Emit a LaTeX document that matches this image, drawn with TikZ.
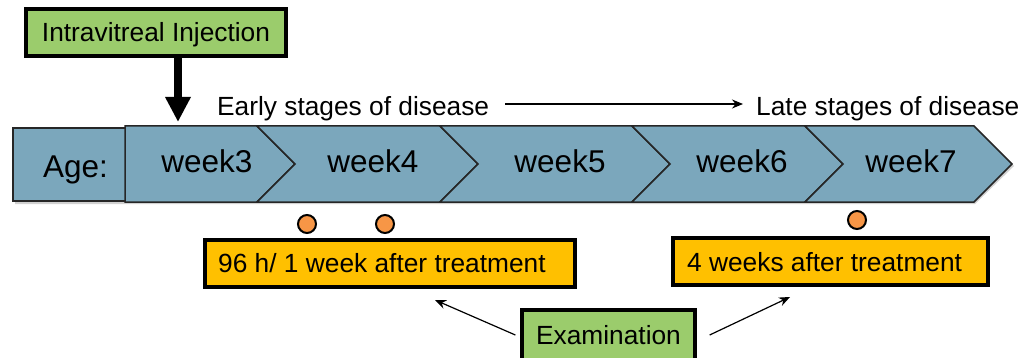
\documentclass[tikz,border=0pt]{standalone}
\usepackage{fontspec}
\setmainfont{Liberation Sans}
\usetikzlibrary{arrows.meta}
\definecolor{chevblue}{HTML}{7BA7BC}
\definecolor{boxgreen}{HTML}{9BCC6C}
\definecolor{boxyellow}{HTML}{FFC000}
\definecolor{dotorange}{HTML}{F79646}
\tikzset{
  smalltxt/.style={inner sep=0pt, font=\fontsize{26.3}{30}\selectfont},
  bigtxt/.style={inner sep=0pt, font=\fontsize{31.5}{36}\selectfont},
  chev/.style={fill=chevblue, draw=black!85, line width=1.5pt, line join=miter},
  greenbox/.style={draw=black, fill=boxgreen, line width=3.3pt, rectangle, inner sep=0pt,
    font=\fontsize{26.3}{30}\selectfont, text height=19pt, text depth=0pt},
  yellowbox/.style={draw=black, fill=boxyellow, line width=3.3pt, rectangle, inner sep=0pt},
  dot/.style={circle, draw=black, fill=dotorange, line width=2pt, minimum size=18pt, inner sep=0pt},
  thinarrow/.style={draw=black, line width=1.2pt, -{Stealth[length=11pt,width=9pt]}},
  fatarrow/.style={draw=black, line width=8pt, -{Triangle[length=25pt,width=24pt]}}
}
\begin{document}
\begin{tikzpicture}[x=1pt,y=-1pt]
\useasboundingbox (0,0) rectangle (1027,358);
% shadow
\fill[black,opacity=0.18] (15,130) -- (127,130) -- (127,128) -- (975,128) -- (1014,166) -- (975,204) -- (15,204) -- cycle;
% Age box
\path[chev] (13,128) rectangle (127,201);
% chevrons
\path[chev] (125,126) -- (257,126) -- (295,164) -- (257,202) -- (125,202) -- cycle;
\path[chev] (257,126) -- (440,126) -- (478,164) -- (440,202) -- (257,202) -- (295,164) -- cycle;
\path[chev] (440,126) -- (632,126) -- (670,164) -- (632,202) -- (440,202) -- (478,164) -- cycle;
\path[chev] (632,126) -- (805,126) -- (843,164) -- (805,202) -- (632,202) -- (670,164) -- cycle;
\path[chev] (805,126) -- (974,126) -- (1012,164) -- (974,202) -- (805,202) -- (843,164) -- cycle;
% labels
\node[bigtxt, anchor=base] (age) at (75.5,178) {Age:};
\node[bigtxt, anchor=base] (w3) at (207,173) {week3};
\node[bigtxt, anchor=base] (w4) at (373,173) {week4};
\node[bigtxt, anchor=base] (w5) at (560,173) {week5};
\node[bigtxt, anchor=base] (w6) at (742,173) {week6};
\node[bigtxt, anchor=base] (w7) at (911,173) {week7};
% stage texts
\node[smalltxt, anchor=base west] (early) at (217,116) {Early stages of disease};
\node[smalltxt, anchor=base west] (late) at (756,116) {Late stages of disease};
\coordinate (a1) at (505,104);
\coordinate (a2) at (743,104);
\draw[thinarrow] (a1) -- (a2);
% injection
\node[greenbox, minimum width=260pt, minimum height=47pt] (inj) at (156,32.5) {Intravitreal Injection};
\coordinate (i1) at (178,58);
\coordinate (i2) at (178,122);
\draw[fatarrow] (i1) -- (i2);
% dots
\node[dot] (d1) at (307,224) {};
\node[dot] (d2) at (385,224) {};
\node[dot] (d3) at (857,220) {};
% yellow boxes
\node[yellowbox, minimum width=370pt, minimum height=47pt] (b1) at (390,263.5) {};
\node[smalltxt, anchor=base west] (t1) at (218,272.5) {96 h/ 1 week after treatment};
\node[yellowbox, minimum width=315pt, minimum height=47pt] (b2) at (830.5,261.5) {};
\node[smalltxt, anchor=base west] (t2) at (687,271) {4 weeks after treatment};
% examination
\node[greenbox, minimum width=173pt, minimum height=50pt] (exam) at (608.5,335) {Examination};
\coordinate (e1) at (435,300);
\coordinate (e2) at (790,297);
\draw[thinarrow] ([xshift=-5pt]exam.west) -- (e1);
\draw[thinarrow] ([xshift=13pt]exam.east) -- (e2);
\end{tikzpicture}
\end{document}
